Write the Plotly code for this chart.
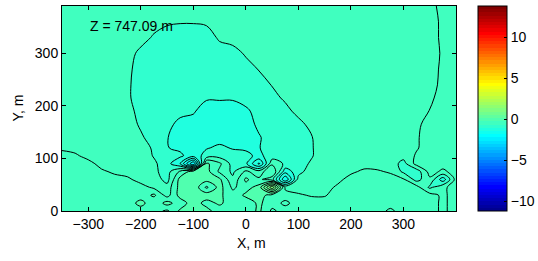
import plotly.graph_objects as go

# ---- data ----
x_m = [-350, -325, -300, -275, -250, -225, -200, -175, -150, -125, -100, -75, -50, -25, 0,
       25, 50, 75, 100, 125, 150, 175, 200, 225, 250, 275, 300, 325, 350, 375, 400]
y_m = [0, 15, 30, 45, 60, 75, 90, 105, 120, 140, 165, 190, 215, 240, 270, 300, 330, 360, 390]

z_y0 = [-0.15]*6 + [-0.15, -0.15, -0.30, 0.05, 0.10, 0.10, -0.15, -0.15, -0.15, 0.05, -0.30, -0.15, -0.15] + [-0.15]*6 + [-0.30] + [-0.15]*3 + [-0.30, -0.15]
z_y15 = [-0.15]*6 + [0.10, -0.20, 0.10, -0.15, 0.15, -0.10, 0.05, -0.15, -0.15, 0.05, -0.15, -0.30, -0.15] + [-0.15]*10 + [-0.30, -0.15]
z_y30 = [-0.15]*7 + [0.05, -0.35, 0.10, 0.15, 0.15, 0.05, -0.15, 0.05, 0.10, -0.10, -0.15, -0.22, -0.27, -0.27] + [-0.15]*8 + [-0.30, -0.15]
z_y45 = [-0.15]*7 + [-0.30, -0.40, 0.10, 0.20, -0.30, 0.10, -0.30, -0.10, 0.10, 1.20, -0.30, -0.35, -0.35, -0.35, -0.20] + [-0.15]*6 + [-0.55, -0.30, -0.15]
z_y60 = [-0.15]*5 + [-0.20, -0.35, -0.35, -0.60, 0.10, 0.15, 0.10, 0.05, -0.45, 0.05, -0.20, -0.40, -1.50, -0.40, -0.35, -0.35, -0.32, -0.15, -0.15, -0.15, -0.15, -0.22, -0.60, -0.30, -0.90, -0.15]
z_y75 = [-0.15, -0.15, -0.15, -0.20, -0.30, -0.35, -0.35, -0.45, -0.60, -0.20, 0.12, 0.10, -0.30, -0.55, -0.20, -0.40, 0.00, -0.90, -0.60, -0.35, -0.35, -0.35, -0.30, -0.20, -0.22, -0.28, -0.55, -0.65, -0.15, -0.30, -0.15]
z_y90 = [-0.15, -0.15, -0.15, -0.35, -0.35, -0.35, -0.35, -0.45, -0.65, -1.00, -2.00, 0.05, -0.20, -0.60, -0.70, -1.30, -0.30, -0.55, -0.65, -0.45, -0.35, -0.35, -0.35, -0.35, -0.35, -0.35, -0.60, -0.15, -0.15, -0.15, -0.15]
z_y105 = [-0.15, -0.20, -0.35, -0.35, -0.35, -0.35, -0.35, -0.52, -0.65, -0.70, -0.90, -0.65, -0.60, -0.65, -0.70, -0.80, -0.65, -0.65, -0.65, -0.53, -0.30, -0.35, -0.35, -0.35, -0.35, -0.35, -0.40, -0.22, -0.15, -0.15, -0.15]
z_y120 = [-0.30, -0.35] + [-0.35]*5 + [-0.55, -0.74, -0.80, -0.78, -0.77, -0.70, -0.77, -0.78, -0.76, -0.65, -0.65, -0.65, -0.53, -0.30] + [-0.35]*6 + [-0.27, -0.15, -0.15, -0.15]
z_y140 = [-0.35]*6 + [-0.45, -0.65, -0.74] + [-0.85]*6 + [-0.77, -0.65, -0.65, -0.65, -0.52] + [-0.35]*7 + [-0.30, -0.05, -0.15, -0.15]
z_y165 = [-0.35]*6 + [-0.55, -0.65, -0.65] + [-0.85]*6 + [-0.70, -0.65, -0.65, -0.65] + [-0.35]*9 + [-0.07, -0.15, -0.15]
z_y190 = [-0.35]*6 + [-0.65]*4 + [-0.72, -0.88, -0.88, -0.88, -0.80, -0.65, -0.65, -0.65] + [-0.35]*10 + [-0.24, -0.15, -0.15]
z_y215 = [-0.35]*5 + [-0.45] + [-0.65]*5 + [-0.72]*3 + [-0.65]*3 + [-0.42] + [-0.35]*11 + [-0.05, -0.15]
z_y240 = [-0.35]*5 + [-0.45] + [-0.65]*10 + [-0.48] + [-0.35]*12 + [-0.18, -0.15]
z_y270 = [-0.35]*5 + [-0.42] + [-0.65]*9 + [-0.48] + [-0.35]*13 + [-0.20, -0.15]
z_y300 = [-0.35]*6 + [-0.60] + [-0.65]*7 + [-0.45] + [-0.35]*14 + [-0.22, -0.15]
z_y330 = [-0.35]*7 + [-0.55] + [-0.65]*4 + [-0.45] + [-0.35]*16 + [-0.20, -0.15]
z_y360 = [-0.35]*8 + [-0.45, -0.48, -0.48, -0.45] + [-0.35]*17 + [-0.20, -0.15]
z_y390 = [-0.35]*29 + [-0.15, -0.15]

z_rows = [z_y0, z_y15, z_y30, z_y45, z_y60, z_y75, z_y90, z_y105, z_y120, z_y140, z_y165,
          z_y190, z_y215, z_y240, z_y270, z_y300, z_y330, z_y360, z_y390]

x_ticks = [-300, -200, -100, 0, 100, 200, 300]
y_ticks = [0, 100, 200, 300]
cb_ticks = [-10, -5, 0, 5, 10]
cb_min, cb_max = -11.15, 13.8
label_text = "Z = 747.09 m"

# ---- styling: MATLAB jet(64) colours ----
def jet64(i):
    if i < 25:
        r = 0.0
    elif i <= 40:
        r = (i - 24) / 16
    elif i <= 56:
        r = 1.0
    else:
        r = 1 - (i - 56) / 16
    if i < 9:
        g = 0.0
    elif i <= 24:
        g = (i - 8) / 16
    elif i <= 40:
        g = 1.0
    elif i <= 55:
        g = 1 - (i - 40) / 16
    else:
        g = 0.0
    if i <= 8:
        b = (i + 8) / 16
    elif i <= 24:
        b = 1.0
    elif i <= 39:
        b = 1 - (i - 24) / 16
    else:
        b = 0.0
    return "rgb(%d,%d,%d)" % (round(r * 255), round(g * 255), round(b * 255))

# band colours for the filled contours
c_start, c_end, c_size = -11.0, 13.75, 0.25
n_lev = int((c_end - c_start) / c_size + 1e-9) + 1
band_scale = []
for j in range(n_lev + 1):
    centre = c_start - c_size / 2 + j * c_size
    idx = int((centre + 11.0) // 0.390625)
    idx = max(0, min(63, idx))
    band_scale.append([j / n_lev, jet64(idx + 1)])

# stepped jet(64) for the colour bar
bar_scale = []
for k in range(64):
    col = jet64(k + 1)
    bar_scale.append([k / 64, col])
    bar_scale.append([(k + 1) / 64, col])

fig = go.Figure()
fig.add_trace(go.Contour(
    x=x_m, y=y_m, z=z_rows,
    colorscale=band_scale,
    autocontour=False,
    contours=dict(start=c_start, end=c_end, size=c_size, coloring="fill", showlines=True),
    line=dict(color="black", width=1.0, smoothing=1),
    hoverinfo="skip",
    showscale=False,
))

# colour-bar carrier (no visible points)
fig.add_trace(go.Scatter(
    x=[None], y=[None], mode="markers", hoverinfo="skip", showlegend=False,
    marker=dict(color=[0], colorscale=bar_scale, cmin=cb_min, cmax=cb_max, showscale=True,
                colorbar=dict(
                    x=1.0558, xanchor="left", xpad=0, ypad=0,
                    y=0.5, yanchor="middle", len=1, lenmode="fraction",
                    thickness=29, thicknessmode="pixels",
                    outlinewidth=1, outlinecolor="black",
                    tickvals=cb_ticks, ticks="inside", ticklen=3, tickcolor="black",
                    tickfont=dict(size=14, color="black"),
                )),
))

axis_common = dict(showline=True, linecolor="black", linewidth=1, mirror="ticks",
                   ticks="inside", ticklen=4, tickcolor="black", showgrid=False,
                   zeroline=False, tickfont=dict(size=14, color="black"))
fig.update_xaxes(range=[-350, 400], tickvals=x_ticks, **axis_common)
fig.update_yaxes(range=[0, 390], tickvals=y_ticks, **axis_common)

fig.update_layout(
    width=538, height=261,
    margin=dict(l=62, r=82, t=6, b=50, autoexpand=False),
    paper_bgcolor="white", plot_bgcolor="white",
    showlegend=False,
    font=dict(family="Liberation Sans, Arial, sans-serif", size=14, color="black"),
    annotations=[
        dict(text=label_text, x=0.066, y=0.902, xref="paper", yref="paper",
             xanchor="left", yanchor="middle", showarrow=False, font=dict(size=14)),
        dict(text="X, m", x=0.482, y=-0.156, xref="paper", yref="paper",
             xanchor="center", yanchor="middle", showarrow=False, font=dict(size=14)),
        dict(text="Y, m", x=-0.114, y=0.5, xref="paper", yref="paper", textangle=-90,
             xanchor="center", yanchor="middle", showarrow=False, font=dict(size=14)),
    ],
)

fig.write_html("out.html", config={"displayModeBar": False},
               post_script="document.body.style.margin='0px';document.body.style.overflow='hidden';")
